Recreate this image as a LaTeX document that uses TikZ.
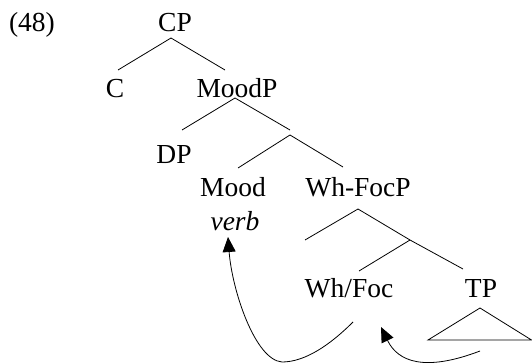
\documentclass[tikz,border=0pt]{standalone}
\usepackage{fontspec}
\setmainfont{Liberation Serif}
\usetikzlibrary{arrows.meta}
\tikzstyle{cat} = [inner sep=0pt, anchor=base, font=\fontsize{27.5}{33}\selectfont]
\tikzstyle{branch} = [line width=0.8pt]
\tikzstyle{movement} = [line width=0.8pt, -{Triangle[length=15pt,width=13pt]}]

\begin{document}
\begin{tikzpicture}[x=1pt, y=-1pt]
		\useasboundingbox (0,0) rectangle (532,363);
		% labels
		\node [cat] (ex) at (32,32) {(48)};
		\node [cat] (cp) at (175,32) {CP};
		\node [cat] (c) at (115,98) {C};
		\node [cat] (moodp) at (237,98) {MoodP};
		\node [cat] (dp) at (174,164) {DP};
		\node [cat] (mood) at (233,197) {Mood};
		\node [cat] (verb) at (235,230) {\itshape verb};
		\node [cat] (whfocp) at (358,197) {Wh-FocP};
		\node [cat] (whfoc) at (349,297) {Wh/Foc};
		\node [cat] (tp) at (481,297) {TP};
		% branch ends
		\coordinate (cp-foot) at (171,38);
		\coordinate (c-top) at (118,70);
		\coordinate (moodp-top) at (225,70);
		\coordinate (moodp-foot) at (235,98);
		\coordinate (dp-top) at (182,130);
		\coordinate (bar-top) at (290,130);
		\coordinate (bar-foot) at (290,135);
		\coordinate (mood-top) at (238,168);
		\coordinate (whfocp-top) at (343,167);
		\coordinate (whfocp-foot) at (358,209);
		\coordinate (spec-end) at (305,240);
		\coordinate (focbar) at (410,240);
		\coordinate (whfoc-top) at (359,271);
		\coordinate (tp-top) at (463,269);
		\coordinate (tri-apex) at (480,308);
		\coordinate (tri-left) at (428,340);
		\coordinate (tri-right) at (531.5,340);
		\coordinate (whfoc-trace) at (353,322);
		\coordinate (tp-trace) at (480,351);

		\draw [branch] (c-top) -- (cp-foot) -- (moodp-top);
		\draw [branch] (dp-top) -- (moodp-foot) -- (bar-top);
		\draw [branch] (mood-top) -- (bar-foot) -- (whfocp-top);
		\draw [branch] (spec-end) -- (whfocp-foot) -- (focbar) -- (tp-top);
		\draw [branch] (whfoc-top) -- (focbar);
		\draw [branch] (tri-apex) -- (tri-left) -- (tri-right) -- cycle;

		% head movement
		\draw [movement] (whfoc-trace) .. controls (330,345) and (305,362) .. (282,362)
			.. controls (255,360) and (232,290) .. (228,237);
		\draw [movement] (tp-trace) .. controls (425,372) and (398,362) .. (381,327);
	\end{tikzpicture}
\end{document}
